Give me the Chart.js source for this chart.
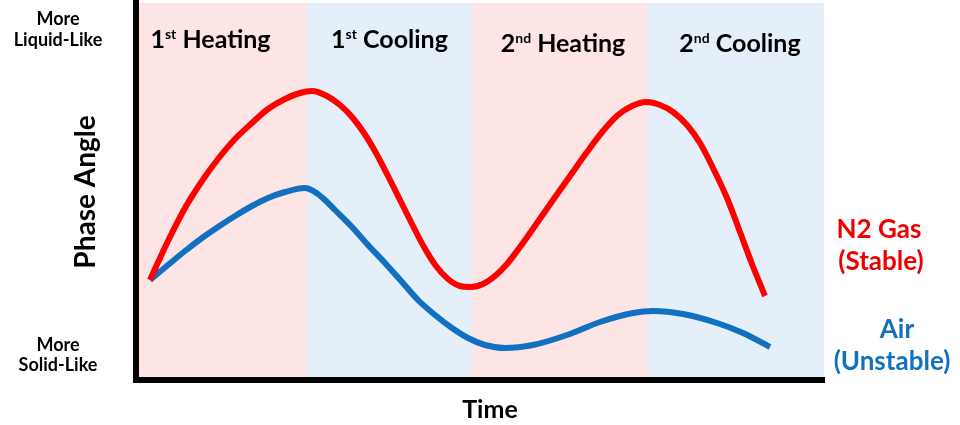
<!DOCTYPE html>
<html>
<head>
<meta charset="utf-8">
<script src="https://cdn.jsdelivr.net/npm/chart.js@4.4.1/dist/chart.umd.min.js"></script>
<style>
  html, body { margin: 0; padding: 0; background: #fff; }
  #wrap { width: 960px; height: 425px; }
</style>
</head>
<body>
<div id="wrap"><canvas id="chartFases"></canvas></div>
<script>
// Datos (tiempo y ángulo de fase en unidades arbitrarias)
const tiempoN2 = [14, 32, 49, 66, 82, 99, 116, 132, 149, 164, 176, 191, 204, 216, 228, 240, 252, 264, 276, 288, 300, 312, 324, 335,
  347, 359, 371, 384, 401, 417, 434, 451, 467, 482, 496, 510, 524, 537, 551, 564, 577, 591, 604, 616, 629];
const faseN2 = [100, 139, 172, 199, 221, 241, 257, 271, 281, 287, 289, 284, 275, 263, 247, 227, 204, 180, 156, 133, 114, 101, 94, 93,
  96, 104, 116, 133, 157, 180, 204, 228, 249, 265, 274, 278, 275, 268, 255, 237, 212, 182, 148, 116, 84];

const tiempoAire = [14, 32, 49, 66, 82, 99, 116, 132, 149, 169, 179, 189, 199, 216, 232, 249, 266, 282, 299, 316,
  332, 349, 369, 397, 431, 464, 497, 517, 547, 581, 607, 634];
const faseAire = [100, 115, 129, 142, 153, 164, 174, 182, 188, 192, 188, 180, 170, 153, 135, 117, 98, 80, 65, 52,
  42, 35, 32, 35, 45, 58, 67, 69, 66, 57, 47, 33];

// Etapas del ensayo
const limitesEtapas = [0, 171, 336, 512, 688];
const ordinalEtapas = ['1', '1', '2', '2'];
const sufijoEtapas = ['st', 'st', 'nd', 'nd'];
const nombreEtapas = ['Heating', 'Cooling', 'Heating', 'Cooling'];
const coloresEtapas = ['#fde5e6', '#e4eff9', '#fde5e6', '#e4eff9'];

const ROJO = '#ff0000';
const AZUL = '#1170c0';
const FUENTE = 'Lato, "DejaVu Sans", sans-serif';

/**
 * Dibuja las bandas de fondo de cada etapa
 */
const pluginBandas = {
  id: 'bandas',
  beforeDraw(chart) {
    const { ctx, chartArea, scales } = chart;
    ctx.save();
    for (let i = 0; i < nombreEtapas.length; i++) {
      const x0 = scales.x.getPixelForValue(limitesEtapas[i]);
      const x1 = scales.x.getPixelForValue(limitesEtapas[i + 1]);
      ctx.fillStyle = coloresEtapas[i];
      ctx.fillRect(x0, chartArea.top, x1 - x0, chartArea.bottom - chartArea.top);
    }
    ctx.restore();
  }
};

/**
 * Textos: etiquetas de etapas, ejes y series
 */
const pluginTextos = {
  id: 'textos',
  afterDraw(chart) {
    const { ctx, scales } = chart;
    ctx.save();
    ctx.fillStyle = '#000';

    // Etiquetas de etapa con superíndice
    const desplaz = [-11, 0, 3, 4];
    const baseY = [48, 48, 52, 52];
    for (let i = 0; i < nombreEtapas.length; i++) {
      const centro = (scales.x.getPixelForValue(limitesEtapas[i]) + scales.x.getPixelForValue(limitesEtapas[i + 1])) / 2 + desplaz[i];
      ctx.font = 'bold 25px ' + FUENTE;
      const w1 = ctx.measureText(ordinalEtapas[i]).width;
      const w3 = ctx.measureText(' ' + nombreEtapas[i]).width;
      ctx.font = 'bold 14px ' + FUENTE;
      const w2 = ctx.measureText(sufijoEtapas[i]).width;
      let x = centro - (w1 + w2 + w3) / 2;
      ctx.textAlign = 'left';
      ctx.textBaseline = 'alphabetic';
      ctx.font = 'bold 25px ' + FUENTE;
      ctx.fillText(ordinalEtapas[i], x, baseY[i]);
      x += w1;
      ctx.font = 'bold 14px ' + FUENTE;
      ctx.fillText(sufijoEtapas[i], x, baseY[i] - 9);
      x += w2;
      ctx.font = 'bold 25px ' + FUENTE;
      ctx.fillText(' ' + nombreEtapas[i], x, baseY[i]);
    }

    // Extremos del eje Y
    ctx.textAlign = 'center';
    ctx.textBaseline = 'middle';
    ctx.font = 'bold 18px ' + FUENTE;
    ctx.fillText('More', 58, 19);
    ctx.fillText('Liquid-Like', 58, 40);
    ctx.fillText('More', 58, 345);
    ctx.fillText('Solid-Like', 58, 365);

    // Títulos de ejes
    ctx.font = 'bold 28px ' + FUENTE;
    ctx.save();
    ctx.translate(86, 192);
    ctx.rotate(-Math.PI / 2);
    ctx.fillText('Phase Angle', 0, 0);
    ctx.restore();
    ctx.font = 'bold 25px ' + FUENTE;
    ctx.fillText('Time', 490, 410);

    // Leyenda a la derecha
    ctx.font = 'bold 26px ' + FUENTE;
    ctx.fillStyle = '#ee0000';
    ctx.fillText('N2 Gas', 879, 230);
    ctx.fillText('(Stable)', 881, 262);
    ctx.fillStyle = AZUL;
    ctx.fillText('Air', 897, 330);
    ctx.fillText('(Unstable)', 892, 362);
    ctx.restore();
  }
};

const ctx = document.getElementById('chartFases');

const chartFases = new Chart(ctx, {
  type: 'line',
  data: {
    datasets: [
      {
        label: 'N2 Gas (Stable)',
        data: tiempoN2.map((t, i) => ({ x: t, y: faseN2[i] })),
        borderColor: ROJO,
        borderWidth: 6,
        pointRadius: 0,
        cubicInterpolationMode: 'monotone',
        fill: false
      },
      {
        label: 'Air (Unstable)',
        data: tiempoAire.map((t, i) => ({ x: t, y: faseAire[i] })),
        borderColor: AZUL,
        borderWidth: 6,
        pointRadius: 0,
        cubicInterpolationMode: 'monotone',
        fill: false
      }
    ]
  },
  options: {
    responsive: true,
    maintainAspectRatio: false,
    animation: false,
    layout: { padding: { left: 0, right: 136, top: 3, bottom: 0 } },
    plugins: {
      legend: { display: false },
      tooltip: { enabled: false }
    },
    scales: {
      x: {
        type: 'linear',
        min: 0,
        max: 688,
        ticks: { display: false },
        grid: { display: false },
        border: { display: true, width: 6, color: '#000' },
        afterFit: scale => { scale.height = 45; }
      },
      y: {
        min: 0,
        max: 377,
        ticks: { display: false },
        grid: { display: false },
        border: { display: true, width: 6, color: '#000' },
        afterFit: scale => { scale.width = 136; }
      }
    }
  },
  plugins: [pluginBandas, pluginTextos]
});
</script>
</body>
</html>
